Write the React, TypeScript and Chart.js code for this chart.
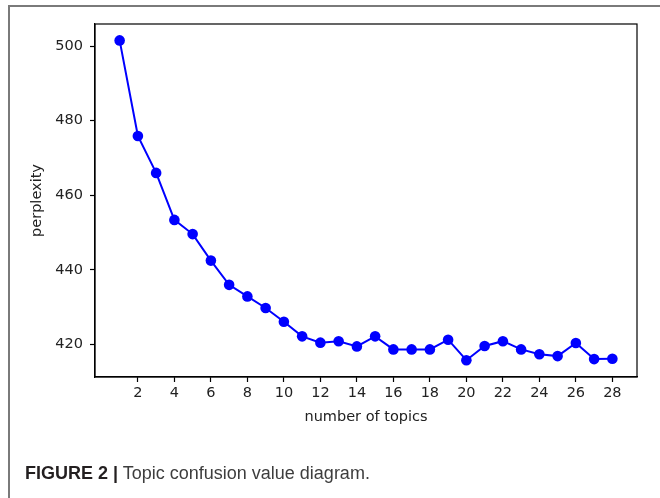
import React, { useEffect, useRef } from "react";
import { Chart, registerables } from "chart.js";

Chart.register(...registerables);

const topics = [1, 2, 3, 4, 5, 6, 7, 8, 9, 10, 11, 12, 13, 14, 15, 16, 17, 18, 19, 20, 21, 22, 23, 24, 25, 26, 27, 28];
const perplexity = [501.5, 475.9, 466.0, 453.4, 449.6, 442.5, 436.0, 432.9, 429.8, 426.1, 422.2, 420.5, 420.9, 419.5, 422.2, 418.7, 418.7, 418.7, 421.3, 415.8, 419.6, 420.9, 418.7, 417.4, 416.9, 420.4, 416.1, 416.2];
const xTicks = [2, 4, 6, 8, 10, 12, 14, 16, 18, 20, 22, 24, 26, 28];
const yTicks = [420, 440, 460, 480, 500];
const xLabel = "number of topics";
const yLabel = "perplexity";
const captionBold = "FIGURE 2 |";
const captionText = " Topic confusion value diagram.";

const boxPlugin = {
  id: "axesBox",
  afterDraw(chart: any) {
    const { ctx, chartArea } = chart;
    ctx.save();
    ctx.strokeStyle = "#000";
    ctx.lineWidth = 1.2;
    ctx.strokeRect(chartArea.left, chartArea.top, chartArea.right - chartArea.left, chartArea.bottom - chartArea.top);
    ctx.restore();
  },
};

export default function App() {
  const ref = useRef<HTMLCanvasElement | null>(null);

  useEffect(() => {
    if (!ref.current) return;
    const font = { family: "DejaVu Sans", size: 14.5 };
    const chart = new Chart(ref.current, {
      type: "line",
      data: {
        datasets: [
          {
            data: topics.map((t, i) => ({ x: t, y: perplexity[i] })),
            borderColor: "#0000ff",
            backgroundColor: "#0000ff",
            borderWidth: 2,
            pointRadius: 5.3,
            pointBorderWidth: 0,
            pointBackgroundColor: "#0000ff",
            tension: 0,
          },
        ],
      },
      options: {
        animation: false,
        responsive: false,
        maintainAspectRatio: false,
        events: [],
        layout: { padding: { left: 0, top: 24, right: 23, bottom: 61 } },
        plugins: { legend: { display: false }, tooltip: { enabled: false } },
        scales: {
          x: {
            type: "linear",
            min: -0.35,
            max: 29.35,
            afterBuildTicks: (s: any) => {
              s.ticks = xTicks.map((v) => ({ value: v }));
            },
            afterFit: (s: any) => {
              s.height = 60;
            },
            ticks: { font, color: "#222", padding: 3, maxRotation: 0, autoSkip: false },
            grid: { drawOnChartArea: false, tickLength: 5, tickColor: "#000", tickWidth: 1.2 },
            border: { color: "#000", width: 1.2 },
            title: { display: true, text: xLabel, font, color: "#222", padding: { top: 0, bottom: 11 } },
          },
          y: {
            type: "linear",
            min: 411.3,
            max: 505.9,
            afterBuildTicks: (s: any) => {
              s.ticks = yTicks.map((v) => ({ value: v }));
            },
            afterFit: (s: any) => {
              s.width = 95;
            },
            ticks: { font, color: "#222", padding: 7, autoSkip: false },
            grid: { drawOnChartArea: false, tickLength: 5, tickColor: "#000", tickWidth: 1.2 },
            border: { color: "#000", width: 1.2 },
            title: { display: true, text: yLabel, font, color: "#222", padding: { top: 29, bottom: 0 } },
          },
        },
      },
      plugins: [boxPlugin],
    });
    return () => chart.destroy();
  }, []);

  return (
    <div style={{ position: "fixed", left: 0, top: 0, width: 660, height: 498, background: "#fff", overflow: "hidden" }}>
      <div
        style={{
          position: "absolute",
          left: 8,
          top: 5,
          width: 660,
          height: 500,
          borderTop: "2px solid #7a7a7a",
          borderLeft: "2px solid #7a7a7a",
          boxSizing: "border-box",
        }}
      />
      <canvas ref={ref} width={660} height={498} style={{ position: "absolute", left: 0, top: 0, width: 660, height: 498 }} />
      <div
        style={{
          position: "absolute",
          left: 25,
          top: 461.5,
          fontFamily: "'Liberation Sans', Arial, sans-serif",
          fontSize: 18,
          lineHeight: "22px",
          color: "#3d3d3d",
          whiteSpace: "nowrap",
        }}
      >
        <span style={{ fontWeight: "bold", color: "#231f20" }}>{captionBold}</span>
        <span>{captionText}</span>
      </div>
    </div>
  );
}
